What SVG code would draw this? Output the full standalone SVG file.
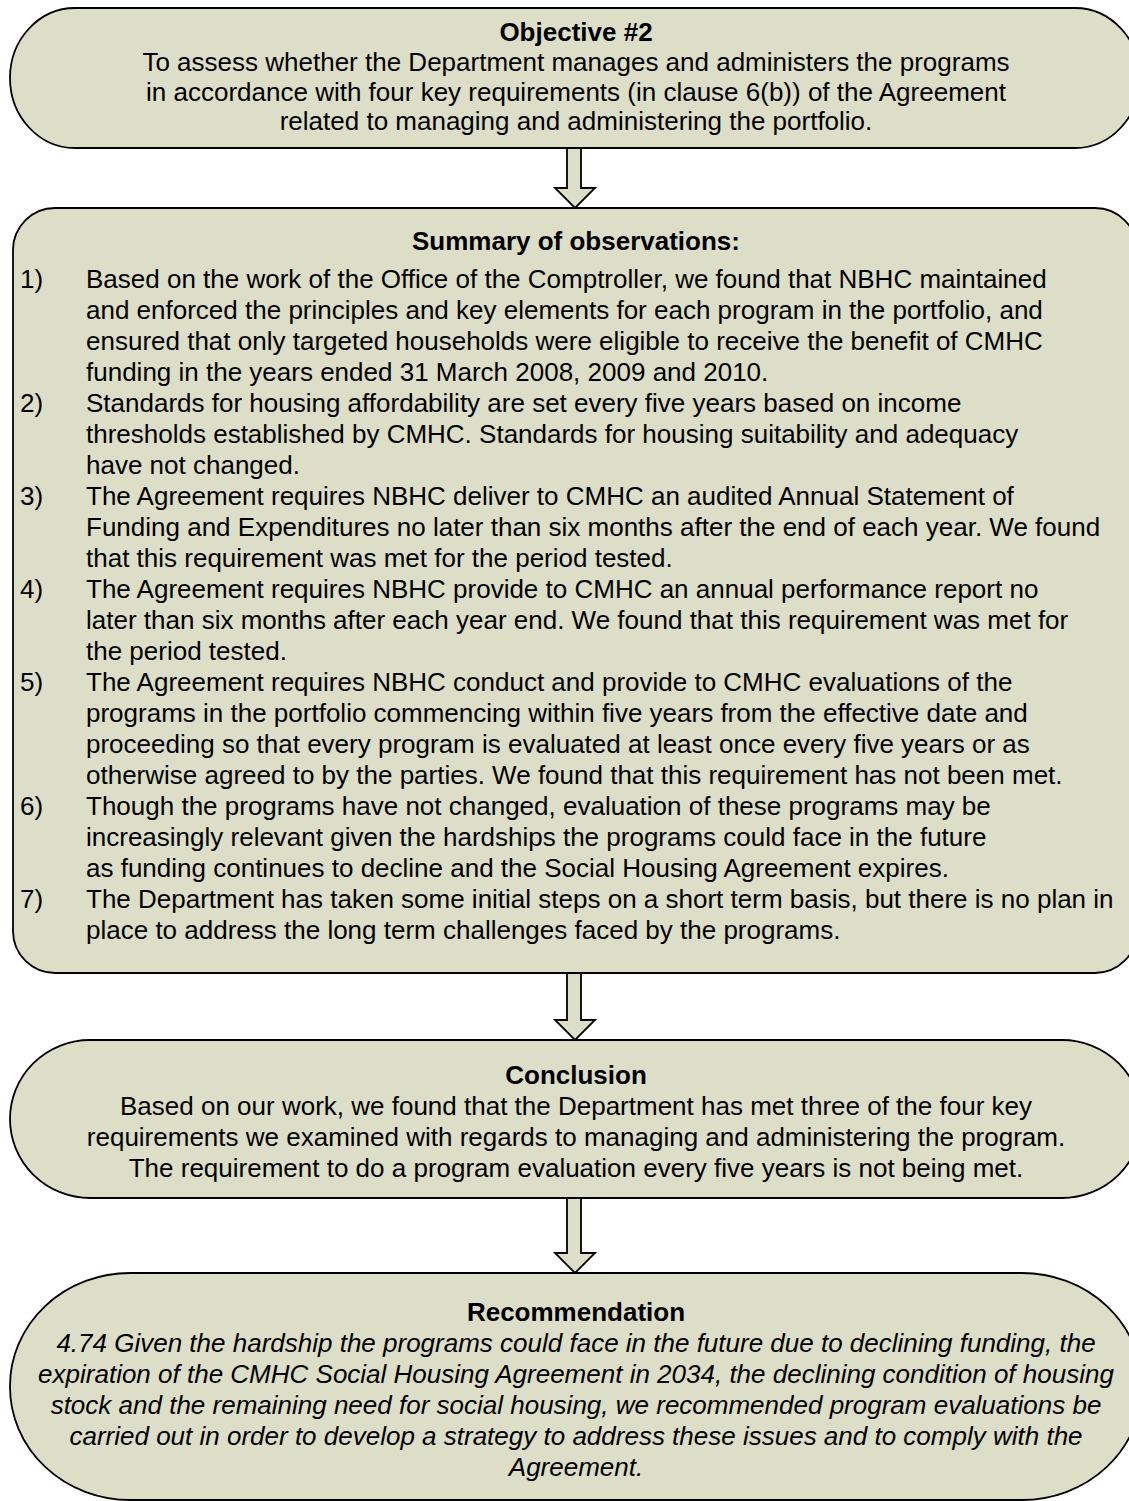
<svg xmlns="http://www.w3.org/2000/svg" width="1129" height="1501" viewBox="0 0 1129 1501">
<style>
.box{fill:#DCDEC8;stroke:#000;stroke-width:1.8}
.arr{fill:#DCDEC8;stroke:#000;stroke-width:1.8;stroke-linejoin:miter}
text{font-family:"Liberation Sans",Arial,sans-serif;font-size:26px;fill:#000}
.c{text-anchor:middle}
.b{font-weight:bold}
.i{font-style:italic}
</style>
<rect width="1129" height="1501" fill="#fff"/>
<g id="objective">
<rect class="box" x="10" y="8" width="1130" height="140" rx="65" ry="70"/>
<text class="c b" x="576" y="41">Objective #2</text>
<text class="c" x="576" y="71">To assess whether the Department manages and administers the programs</text>
<text class="c" x="576" y="101">in accordance with four key requirements (in clause 6(b)) of the Agreement</text>
<text class="c" x="576" y="130">related to managing and administering the portfolio.</text>
</g>
<g id="summary">
<rect class="box" x="13" y="208" width="1124" height="765" rx="42" ry="42"/>
<text class="c b" x="576" y="250">Summary of observations:</text>
<text x="20" y="288">1)</text>
<text x="86" y="288">Based on the work of the Office of the Comptroller, we found that NBHC maintained</text>
<text x="86" y="319">and enforced the principles and key elements for each program in the portfolio, and</text>
<text x="86" y="350">ensured that only targeted households were eligible to receive the benefit of CMHC</text>
<text x="86" y="381">funding in the years ended 31 March 2008, 2009 and 2010.</text>
<text x="20" y="412">2)</text>
<text x="86" y="412">Standards for housing affordability are set every five years based on income</text>
<text x="86" y="443">thresholds established by CMHC.  Standards for housing suitability and adequacy</text>
<text x="86" y="474">have not changed.</text>
<text x="20" y="505">3)</text>
<text x="86" y="505">The Agreement requires NBHC deliver to CMHC an audited Annual Statement of</text>
<text x="86" y="536">Funding and Expenditures no later than six months after the end of each year.  We found</text>
<text x="86" y="567">that this requirement was met for the period tested.</text>
<text x="20" y="598">4)</text>
<text x="86" y="598">The Agreement requires NBHC provide to CMHC an annual performance report no</text>
<text x="86" y="629">later than six months after each year end. We found that this requirement was met for</text>
<text x="86" y="660">the period tested.</text>
<text x="20" y="691">5)</text>
<text x="86" y="691">The Agreement requires NBHC conduct and provide to CMHC evaluations of the</text>
<text x="86" y="722">programs in the portfolio commencing within five years from the effective date and</text>
<text x="86" y="753">proceeding so that every program is evaluated at least once every five years or as</text>
<text x="86" y="784">otherwise agreed to by the parties.  We found that this requirement has not been met.</text>
<text x="20" y="815">6)</text>
<text x="86" y="815">Though the programs have not changed, evaluation of these programs may be</text>
<text x="86" y="846">increasingly relevant given the hardships the programs could face in the future</text>
<text x="86" y="877">as funding continues to decline and the Social Housing Agreement expires.</text>
<text x="20" y="908">7)</text>
<text x="86" y="908">The Department has taken some initial steps on a short term basis, but there is no plan in</text>
<text x="86" y="939">place to address the long term challenges faced by the programs.</text>
</g>
<g id="conclusion">
<rect class="box" x="10" y="1040" width="1132" height="158" rx="80" ry="79"/>
<text class="c b" x="576" y="1084">Conclusion</text>
<text class="c" x="576" y="1115">Based on our work, we found that the Department has met three of the four key</text>
<text class="c" x="576" y="1146">requirements we examined with regards to managing and administering the program.</text>
<text class="c" x="576" y="1177">The requirement to do a program evaluation every five years is not being met.</text>
</g>
<g id="recommendation">
<rect class="box" x="10" y="1273" width="1132" height="227" rx="120" ry="113"/>
<text class="c b" x="576" y="1321">Recommendation</text>
<text class="c i" x="576" y="1352">4.74 Given the hardship the programs could face in the future due to declining funding, the</text>
<text class="c i" x="576" y="1383">expiration of the CMHC Social Housing Agreement in 2034, the declining condition of housing</text>
<text class="c i" x="576" y="1414">stock and the remaining need for social housing, we recommended program evaluations be</text>
<text class="c i" x="576" y="1445">carried out in order to develop a strategy to address these issues and to comply with the</text>
<text class="c i" x="576" y="1476">Agreement.</text>
</g>
<g id="connectors">
<polygon class="arr" points="567,148 581,148 581,188 595,188 575,208 555,188 567,188"/>
<polygon class="arr" points="567,973 581,973 581,1020 595,1020 575,1040 555,1020 567,1020"/>
<polygon class="arr" points="567,1198 581,1198 581,1253 595,1253 575,1273 555,1253 567,1253"/>
</g>
</svg>
